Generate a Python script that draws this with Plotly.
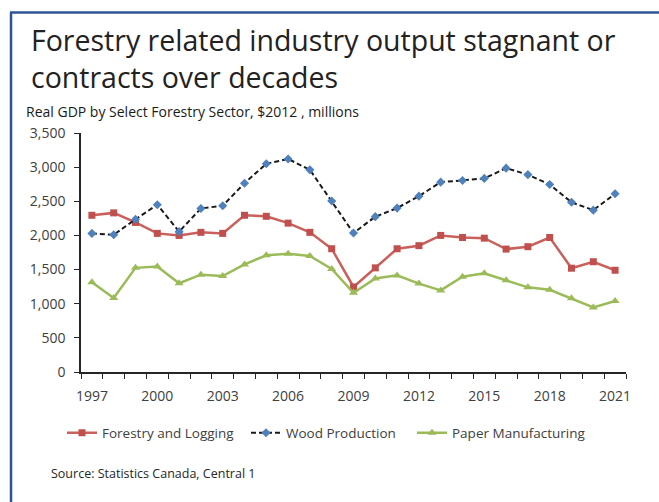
import plotly.graph_objects as go

years = list(range(1997, 2022))
tick_years = [1997, 2000, 2003, 2006, 2009, 2012, 2015, 2018, 2021]
tick_labels = [str(y) for y in tick_years]

forestry_logging = [2295, 2330, 2190, 2030, 2000, 2045, 2030, 2295, 2280, 2180, 2045, 1805, 1245,
                    1525, 1805, 1850, 2000, 1970, 1960, 1800, 1835, 1970, 1520, 1615, 1490]
wood_production = [2030, 2010, 2235, 2450, 2055, 2395, 2435, 2765, 3050, 3120, 2960, 2505, 2035,
                   2275, 2400, 2575, 2780, 2805, 2835, 2985, 2890, 2745, 2485, 2370, 2610]
paper_manufacturing = [1315, 1085, 1525, 1545, 1300, 1425, 1405, 1575, 1710, 1730, 1700, 1510, 1160,
                       1370, 1415, 1295, 1195, 1395, 1445, 1345, 1240, 1205, 1080, 945, 1040]

W, H = 659, 502
L, R, T, B = 81, 626, 133, 372
FONT = "Open Sans"
TXT = "#404040"
AX = "#262626"


def px(x):
    return (x - L) / (R - L)


def py(y):
    return (B - y) / (B - T)


fig = go.Figure()
fig.add_trace(go.Scatter(
    x=years, y=forestry_logging, name="Forestry and Logging", mode="lines+markers",
    line=dict(color="#C9605C", width=2.5),
    marker=dict(symbol="square", size=7, color="#C0504D"),
    legend="legend", showlegend=True))
fig.add_trace(go.Scatter(
    x=years, y=wood_production, name="Wood Production", mode="lines+markers",
    line=dict(color="#1A1A1A", width=2, dash="5px,3px"),
    marker=dict(symbol="diamond", size=7, color="#4F81BD"),
    legend="legend2", showlegend=True))
fig.add_trace(go.Scatter(
    x=years, y=paper_manufacturing, name="Paper Manufacturing", mode="lines+markers",
    line=dict(color="#9BBB59", width=2.5),
    marker=dict(symbol="triangle-up", size=8, color="#9BBB59"),
    legend="legend3", showlegend=True))

legend_common = dict(orientation="h", xanchor="left", yanchor="middle",
                     font=dict(family=FONT, size=13.5, color=TXT),
                     bgcolor="rgba(0,0,0,0)", itemwidth=30)

fig.update_layout(
    width=W, height=H,
    showlegend=True,
    margin=dict(l=L, r=W - R, t=T, b=H - B),
    paper_bgcolor="white", plot_bgcolor="white",
    font=dict(family=FONT, color=TXT),
    legend=dict(x=px(62), y=py(433), **legend_common),
    legend2=dict(x=px(246), y=py(433), **legend_common),
    legend3=dict(x=px(412), y=py(433), **legend_common),
    xaxis=dict(
        range=[1996.5, 2021.5], tickvals=tick_years, ticktext=tick_labels,
        ticks="", showline=True, linecolor=AX, linewidth=1.5,
        showgrid=False, zeroline=False,
        tickfont=dict(family=FONT, size=14, color=TXT),
        ticklabelstandoff=10,
        minor=dict(ticks="outside", ticklen=5, tickwidth=1.3, tickcolor=AX,
                   tick0=1996.5, dtick=1, showgrid=False),
    ),
    yaxis=dict(
        range=[0, 3500], dtick=500, tickformat=",", ticks="outside", ticklen=5,
        tickwidth=1.3, tickcolor=AX, showline=True, linecolor=AX, linewidth=1.5,
        showgrid=False, zeroline=False,
        tickfont=dict(family=FONT, size=14, color=TXT),
        ticklabelstandoff=6,
    ),
)

annotations = [
    dict(text="Forestry related industry output stagnant or", x=px(30), y=py(40),
         font=dict(family=FONT, size=28.5, color="#222222")),
    dict(text="contracts over decades", x=px(30), y=py(77),
         font=dict(family=FONT, size=28.5, color="#222222")),
    dict(text="Real GDP by Select Forestry Sector, $2012 , millions", x=px(25), y=py(111),
         font=dict(family=FONT, size=14, color="#1A1A1A")),
    dict(text="Source: Statistics Canada, Central 1", x=px(50), y=py(473),
         font=dict(family=FONT, size=12.5, color="#262626")),
]
for a in annotations:
    fig.add_annotation(xref="paper", yref="paper", xanchor="left", yanchor="middle",
                       showarrow=False, borderpad=0, **a)

border = "#2F5496"
fig.add_shape(type="line", xref="paper", yref="paper", x0=px(11), x1=px(11),
              y0=py(515), y1=py(12.5), line=dict(color=border, width=2.5))
fig.add_shape(type="line", xref="paper", yref="paper", x0=px(10), x1=px(680),
              y0=py(12.5), y1=py(12.5), line=dict(color=border, width=2.5))

fig.write_html("out.html")
